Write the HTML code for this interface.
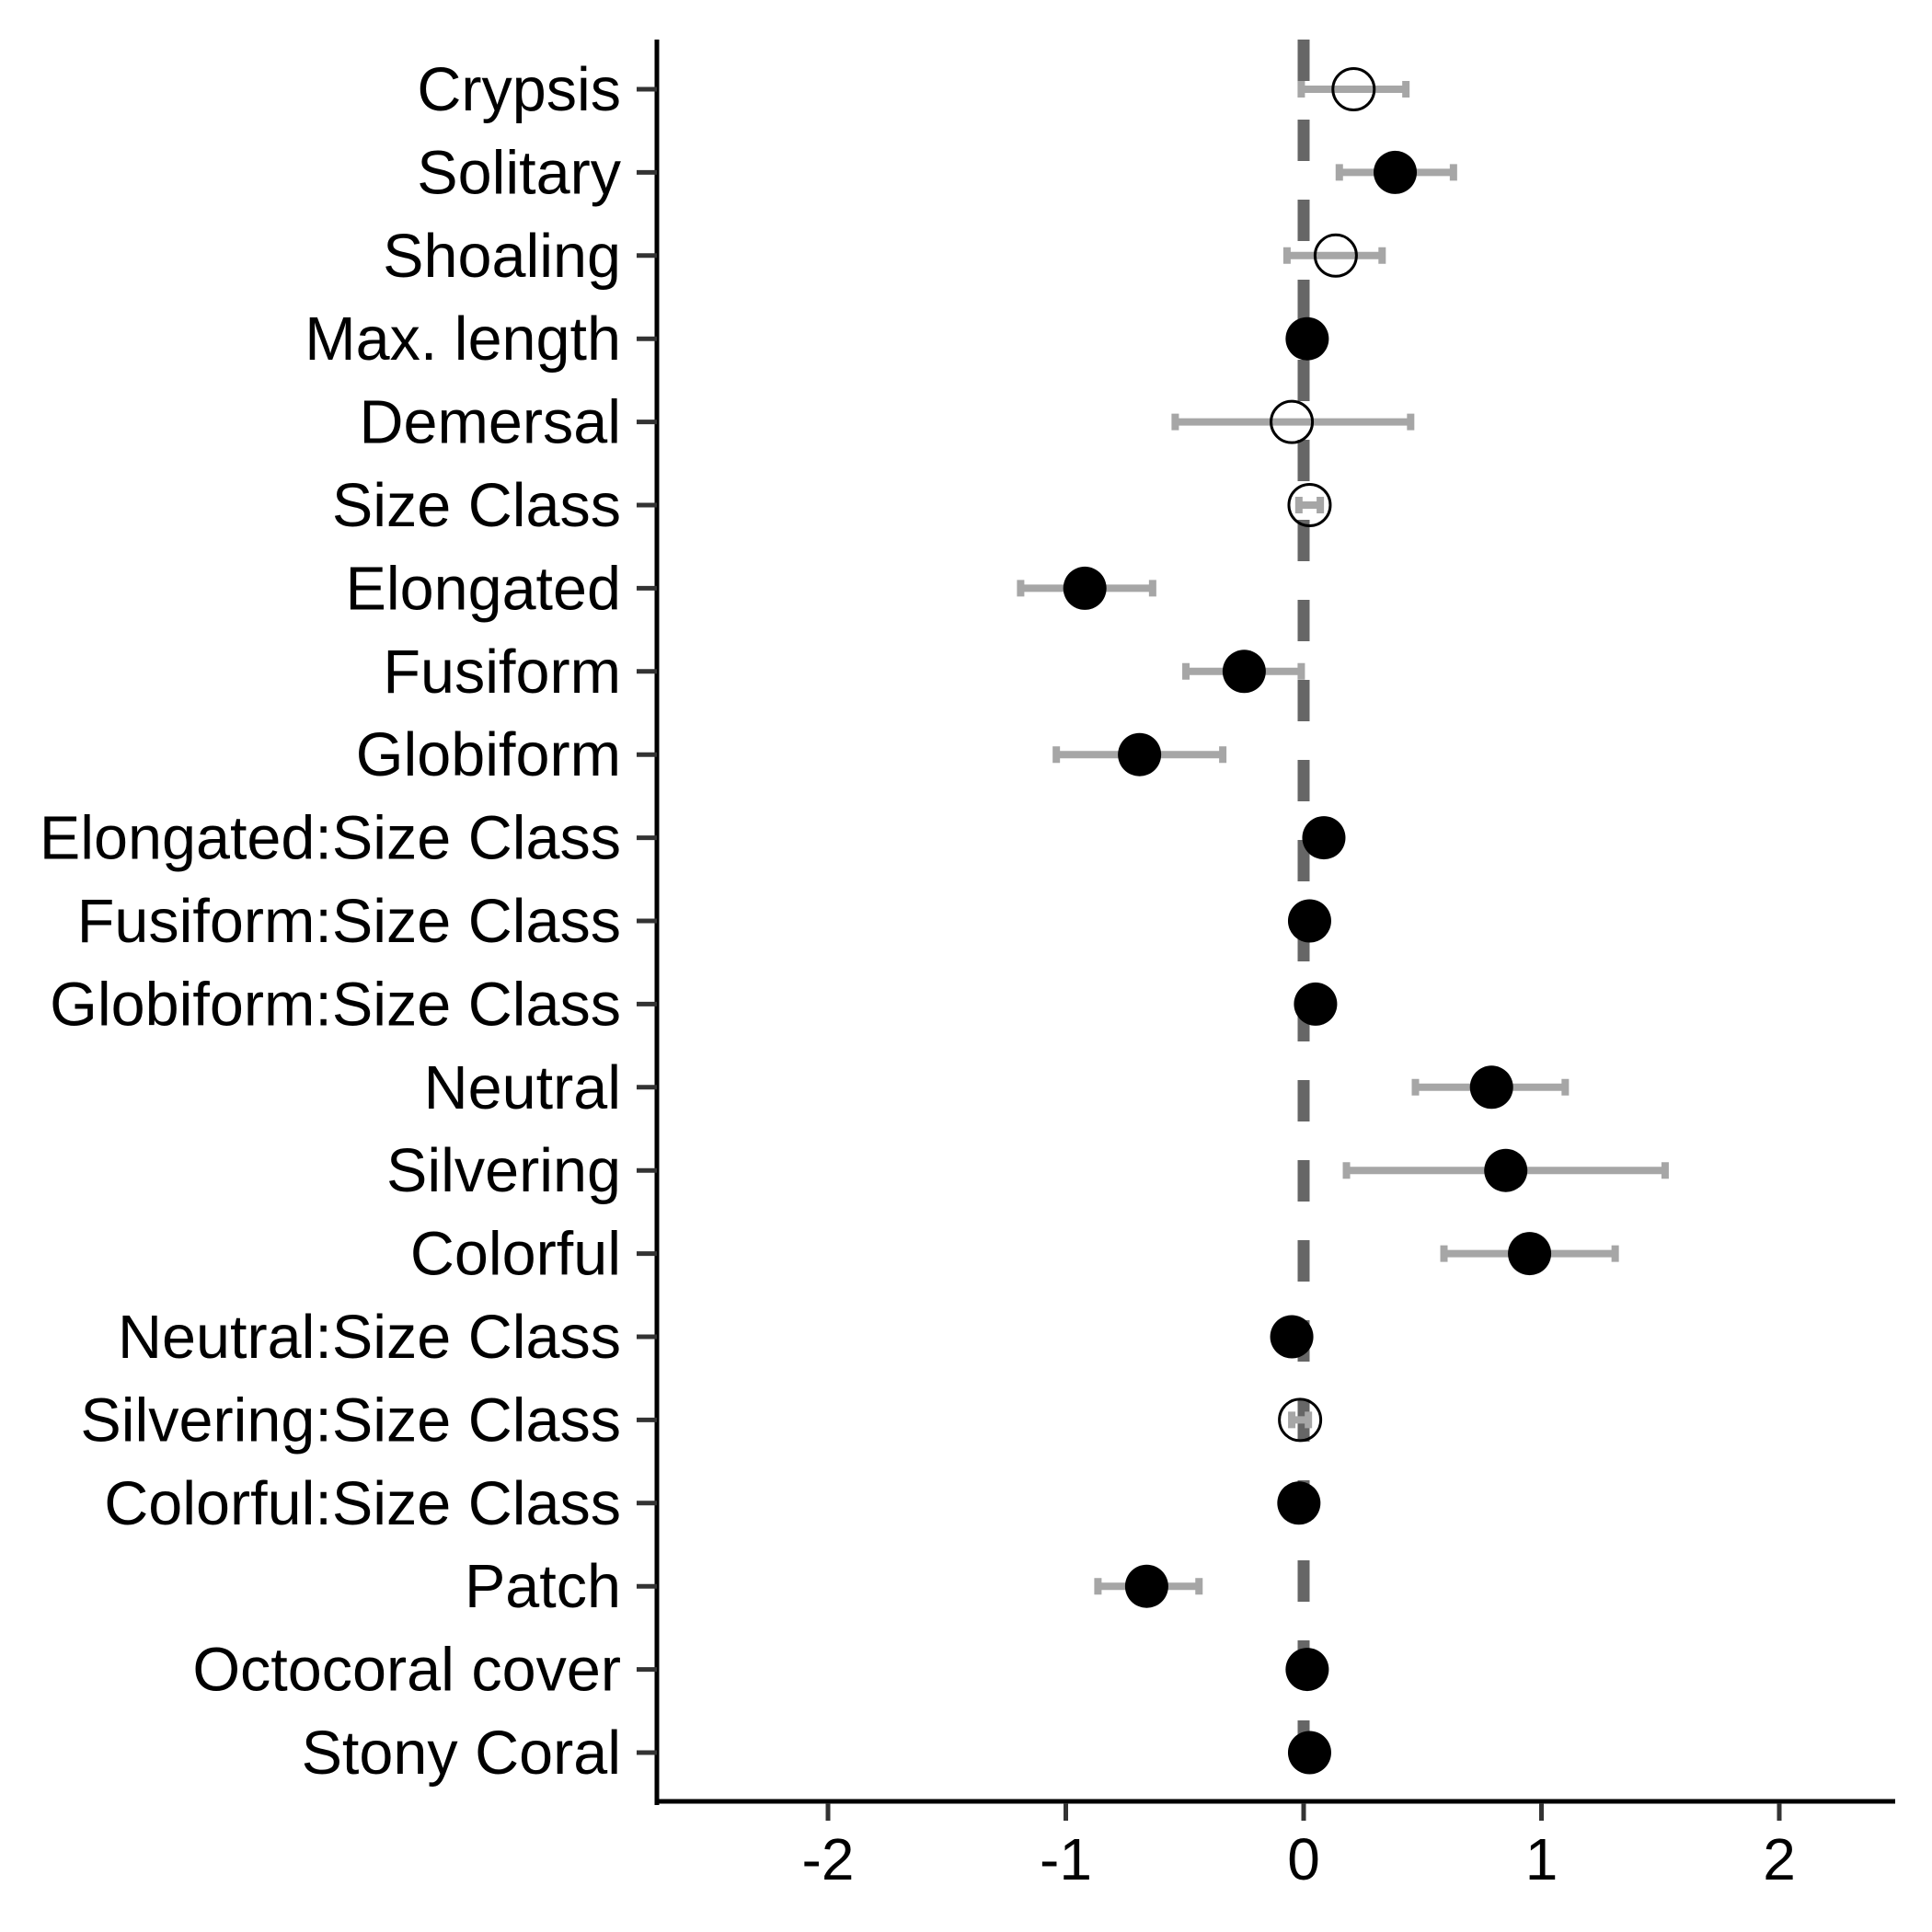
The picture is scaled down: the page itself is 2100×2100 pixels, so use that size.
<!DOCTYPE html>
<html><head><meta charset="utf-8"><style>
body{margin:0;background:#fff}
svg{display:block}
text{font-family:"Liberation Sans",Arial,sans-serif;fill:#000}
</style></head><body>
<svg id="chart" width="2100" height="2100" viewBox="0 0 2100 2100" xmlns="http://www.w3.org/2000/svg"></svg>
<script>
const categories=["Crypsis","Solitary","Shoaling","Max. length","Demersal","Size Class","Elongated","Fusiform","Globiform","Elongated:Size Class","Fusiform:Size Class","Globiform:Size Class","Neutral","Silvering","Colorful","Neutral:Size Class","Silvering:Size Class","Colorful:Size Class","Patch","Octocoral cover","Stony Coral"];
const estimates=[0.21,0.385,0.135,0.015,-0.05,0.025,-0.92,-0.25,-0.69,0.085,0.025,0.05,0.79,0.85,0.95,-0.05,-0.015,-0.02,-0.66,0.015,0.025];
const lower=[-0.01,0.15,-0.07,0.0,-0.54,-0.02,-1.19,-0.495,-1.04,0.07,0.01,0.035,0.47,0.18,0.59,-0.065,-0.05,-0.035,-0.865,0.0,0.01];
const upper=[0.43,0.63,0.33,0.03,0.45,0.07,-0.635,-0.01,-0.34,0.1,0.04,0.065,1.10,1.52,1.31,-0.035,0.02,-0.005,-0.44,0.03,0.04];
const significant=[false,true,false,true,false,false,true,true,true,true,true,true,true,true,true,true,false,true,true,true,true];
const xTicks=[-2,-1,0,1,2];

const svg=document.getElementById('chart');
const NS='http://www.w3.org/2000/svg';
const x=v=>1417+v*258.5;
const y=i=>97+i*90.4;
function mk(tag,attrs,parent){const e=document.createElementNS(NS,tag);for(const k in attrs)e.setAttribute(k,attrs[k]);(parent||svg).appendChild(e);return e;}

let zl=mk('line',{x1:x(0),x2:x(0),y1:43,y2:1956,stroke:'#666',"stroke-width":13,"stroke-dasharray":"45 42"});



let ya=mk('line',{x1:714,x2:714,y1:43,y2:1962,stroke:'#000',"stroke-width":5});


let xa=mk('line',{x1:712,x2:2060,y1:1958,y2:1958,stroke:'#000',"stroke-width":5});



xTicks.forEach(t=>{
  const tk=mk('line',{x1:x(t),x2:x(t),y1:1960,y2:1979,stroke:'#333',"stroke-width":5});
  
  
  const tl=mk('text',{x:x(t),y:2043,"text-anchor":"middle","font-size":64});
  tl.textContent=String(t);
  
  
});

categories.forEach((c,i)=>{
  const tk=mk('line',{x1:692,x2:714,y1:y(i),y2:y(i),stroke:'#333',"stroke-width":5});
  
  
  const tl=mk('text',{x:675,y:y(i)+23,"text-anchor":"end","font-size":66.5});
  tl.textContent=c;
  
  
});

categories.forEach((c,i)=>{
  const g=mk('g',{});
  
  
  const yy=y(i),l=x(lower[i]),u=x(upper[i]);
  const bar=mk('path',{d:`M${l},${yy-9}V${yy+9}M${l},${yy}H${u}M${u},${yy-9}V${yy+9}`,stroke:'#a6a6a6',"stroke-width":8,fill:'none'},g);
  
  
  const pt=significant[i]?mk('circle',{cx:x(estimates[i]),cy:yy,r:23.5,fill:'#000'},g):mk('circle',{cx:x(estimates[i]),cy:yy,r:22.5,fill:'none',stroke:'#000',"stroke-width":3},g);
  
  
});
</script>
</body></html>
